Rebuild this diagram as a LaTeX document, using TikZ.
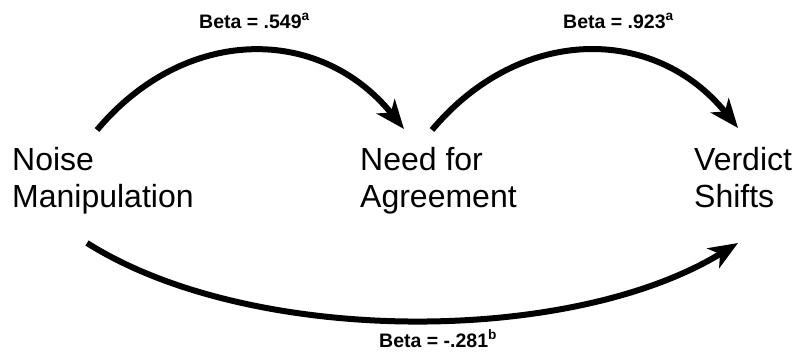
\documentclass[tikz,border=0pt]{standalone}
\usepackage{fontspec}
\setmainfont{Liberation Sans}
\usetikzlibrary{arrows.meta}
\tikzset{
  concept/.style={font=\fontsize{32}{37}\selectfont, align=left, inner sep=0pt, anchor=base west},
  beta/.style={font=\fontsize{19.5}{22}\selectfont\bfseries, inner sep=0pt, anchor=base west},
  path/.style={line width=6pt, -{Stealth[length=29pt,width=23pt,inset=8pt]}}
}
\begin{document}
\begin{tikzpicture}[x=1pt,y=-1pt]
\useasboundingbox (0,0) rectangle (800,354);
\node[concept] (noise) at (12,207) {Noise\\Manipulation};
\node[concept] (need) at (360,207) {Need for\\Agreement};
\node[concept] (verdict) at (694,207) {Verdict\\Shifts};
\node[beta] (b1) at (199,28) {Beta = .549\textsuperscript{a}};
\node[beta] (b2) at (563,28) {Beta = .923\textsuperscript{a}};
\node[beta] (b3) at (379,347) {Beta = -.281\textsuperscript{b}};
\coordinate (s1) at (97,130);
\coordinate (e1) at (404,129);
\coordinate (s2) at (432,130);
\coordinate (e2) at (738,128);
\coordinate (s3) at (87,243);
\coordinate (e3) at (738,243);
\draw[path] (s1) .. controls (185,25) and (320,25) .. (e1);
\draw[path] (s2) .. controls (520,25) and (655,25) .. (e2);
\draw[path] (s3) .. controls (250,346) and (570,346) .. (e3);
\end{tikzpicture}
\end{document}
